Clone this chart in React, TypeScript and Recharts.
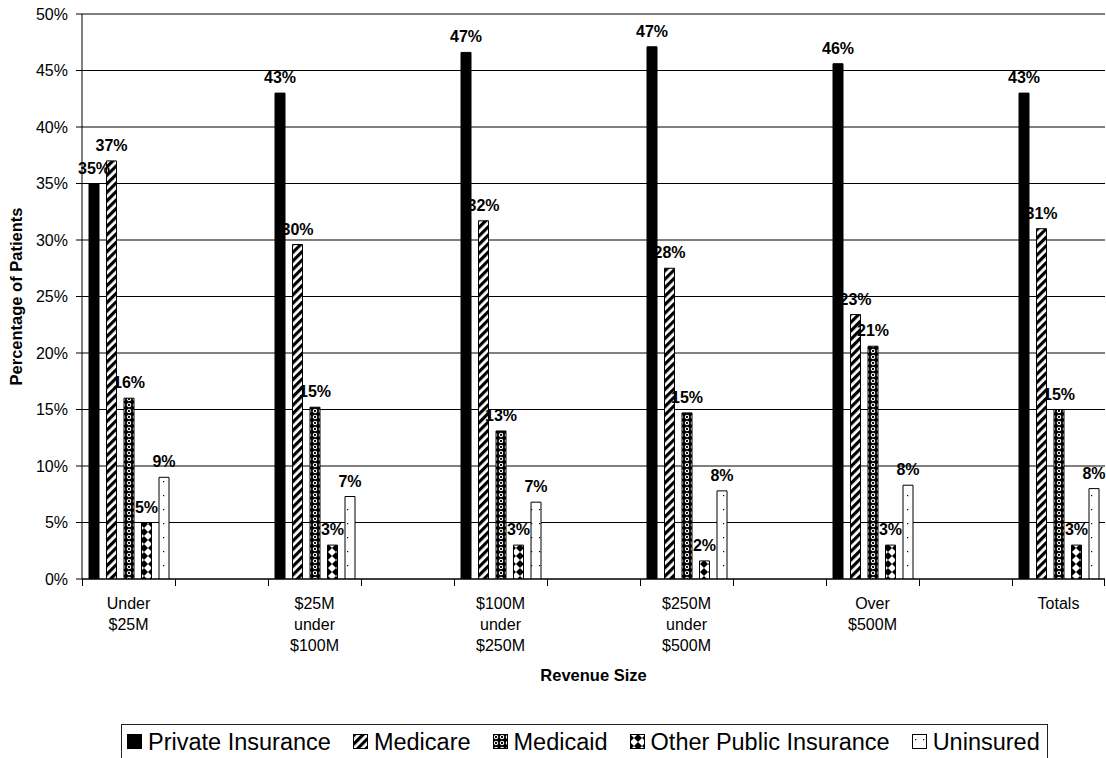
import React from 'react';
import { BarChart, Bar, XAxis, YAxis, CartesianGrid, LabelList, Label } from 'recharts';

// ── data ──────────────────────────────────────────────────────────────────────

const categories = [
  'Under\n$25M',
  '$25M\nunder\n$100M',
  '$100M\nunder\n$250M',
  '$250M\nunder\n$500M',
  'Over\n$500M',
  'Totals',
];

const privateInsurance = [35, 43, 46.6, 47.1, 45.6, 43];
const medicare         = [37, 29.6, 31.7, 27.5, 23.4, 31];
const medicaid         = [16, 15.2, 13.1, 14.7, 20.6, 15];
const otherPublic      = [5, 3, 3, 1.6, 3, 3];
const uninsured        = [9, 7.3, 6.8, 7.8, 8.3, 8];

const yTicks = [0, 5, 10, 15, 20, 25, 30, 35, 40, 45, 50];

const FONT = '"Liberation Sans", Arial, Helvetica, sans-serif';

const CHART_W = 1106;
const CHART_H = 758;
const MARGIN = { top: 14, right: 1, bottom: 178, left: 0 };
const Y_AXIS_W = 82;

const SERIES = [
  { key: 'private',  name: 'Private Insurance',      values: privateInsurance, fill: '#000' },
  { key: 'medicare', name: 'Medicare',               values: medicare,         fill: 'url(#patMedicare)' },
  { key: 'medicaid', name: 'Medicaid',               values: medicaid,         fill: 'url(#patMedicaid)' },
  { key: 'other',    name: 'Other Public Insurance', values: otherPublic,      fill: 'url(#patOther)' },
  { key: 'unins',    name: 'Uninsured',              values: uninsured,        fill: 'url(#patUnins)' },
];

// the original sheet has an empty column between every group
type Row = { id: string; label: string; [k: string]: string | number | null };
const data: Row[] = [];
categories.forEach((c, i) => {
  const row: Row = { id: `c${i}`, label: c };
  SERIES.forEach((s) => { row[s.key] = s.values[i]; });
  data.push(row);
  if (i < categories.length - 1) {
    const gap: Row = { id: `g${i}`, label: '' };
    SERIES.forEach((s) => { gap[s.key] = null; });
    data.push(gap);
  }
});

// width of one category band, used for the Excel-style ticks between categories
const BAND = (CHART_W - MARGIN.left - MARGIN.right - Y_AXIS_W) / data.length;

const fmtPct = (v: unknown) => (v == null ? '' : `${Math.round(Number(v))}%`);

// ── patterns ──────────────────────────────────────────────────────────────────

function Patterns() {
  return (
    <defs>
      <pattern id="patMedicare" width="6" height="6" patternUnits="userSpaceOnUse" patternTransform="rotate(45)">
        <rect width="6" height="6" fill="#fff" />
        <rect width="3.2" height="6" fill="#000" />
      </pattern>
      <pattern id="patMedicaid" width="6" height="6" patternUnits="userSpaceOnUse">
        <rect width="6" height="6" fill="#000" />
        <circle cx="3" cy="3" r="1.7" fill="none" stroke="#fff" strokeWidth="1.1" />
      </pattern>
      <pattern id="patOther" width="8" height="8" patternUnits="userSpaceOnUse">
        <rect width="8" height="8" fill="#fff" />
        <polygon points="0,0 4,4 0,8" fill="#000" />
        <polygon points="8,0 4,4 8,8" fill="#000" />
      </pattern>
      <pattern id="patUnins" width="8" height="14" patternUnits="userSpaceOnUse">
        <rect width="8" height="14" fill="#fff" />
        <rect x="3" y="5" width="1.2" height="1.2" fill="#000" />
      </pattern>
    </defs>
  );
}

// ── ticks ─────────────────────────────────────────────────────────────────────

function CategoryTick(props: any) {
  const { payload } = props;
  const x = Number(props.x);
  const y = Number(props.y);
  const idx = payload.index;
  const row = data[idx];
  const left = Math.round(x - BAND / 2) + 0.5;
  const right = Math.round(x + BAND / 2) - 0.5;
  const lines = row && row.label ? String(row.label).split('\n') : [];
  return (
    <g>
      <path d={`M${left} ${y} L${left} ${y + 7}`} stroke="#000" strokeWidth={1.2} shapeRendering="crispEdges" />
      {idx === data.length - 1 && (
        <path d={`M${right} ${y} L${right} ${y + 7}`} stroke="#000" strokeWidth={1.2} shapeRendering="crispEdges" />
      )}
      {lines.length > 0 && (
        <text x={x} y={y + 30} textAnchor="middle" fill="#000" fontSize={16} fontFamily={FONT}>
          {lines.map((l, i) => (
            <tspan key={i} x={x} dy={i === 0 ? 0 : 21}>{l}</tspan>
          ))}
        </text>
      )}
    </g>
  );
}

// ── legend ────────────────────────────────────────────────────────────────────

function LegendBox() {
  return (
    <div
      style={{
        position: 'absolute', left: 121, top: 724, height: 40,
        border: '1px solid #222', boxSizing: 'border-box',
        padding: '3px 7px 0 5px', display: 'flex', alignItems: 'flex-start',
        fontFamily: FONT, fontSize: 23.5, lineHeight: '28px', color: '#000',
        background: '#fff',
      }}
    >
      {SERIES.map((s, i) => (
        <div key={s.key} style={{ display: 'flex', alignItems: 'center', marginLeft: i === 0 ? 0 : 22 }}>
          <svg width={16} height={16} style={{ marginRight: 5 }}>
            <rect x={0.5} y={0.5} width={14} height={14} fill={s.fill} stroke="#000" strokeWidth={1} />
          </svg>
          <span>{s.name}</span>
        </div>
      ))}
    </div>
  );
}

// ── main ──────────────────────────────────────────────────────────────────────

export default function App() {
  return (
    <div style={{ position: 'absolute', left: 0, top: 0, width: CHART_W, height: CHART_H, overflow: 'hidden', background: '#fff' }}>
      <BarChart
        width={CHART_W}
        height={CHART_H}
        data={data}
        margin={MARGIN}
        barSize={10}
        barGap={7.5}
      >
        <Patterns />
        <CartesianGrid horizontal vertical={false} stroke="#000" strokeWidth={1} />
        <XAxis
          dataKey="id"
          height={1}
          interval={0}
          tickLine={false}
          tickSize={0}
          tickMargin={0}
          axisLine={{ stroke: '#000' }}
          tick={(p: any) => <CategoryTick {...p} />}
        >
          <Label
            content={(p: any) => {
              const vb = p.viewBox || { x: 82, y: 579, width: 1023 };
              return (
                <text x={vb.x + vb.width / 2} y={vb.y + 96} textAnchor="middle" dominantBaseline="central"
                  fontSize={16.5} fontWeight="bold" fontFamily={FONT} fill="#000">
                  Revenue Size
                </text>
              );
            }}
          />
        </XAxis>
        <YAxis
          width={Y_AXIS_W}
          domain={[0, 50]}
          ticks={yTicks}
          interval={0}
          allowDataOverflow
          tickFormatter={(v: number) => `${v}%`}
          tickSize={6}
          tickMargin={8}
          axisLine={{ stroke: '#000' }}
          tickLine={{ stroke: '#000' }}
          tick={{ fill: '#000', fontSize: 16, fontFamily: FONT }}
        >
          <Label
            content={(p: any) => {
              const vb = p.viewBox || { x: 0, y: 14, height: 565 };
              const cx = vb.x + 16;
              const cy = vb.y + vb.height / 2;
              return (
                <text x={cx} y={cy} transform={`rotate(-90 ${cx} ${cy})`} textAnchor="middle"
                  dominantBaseline="central" fontSize={16.5} fontWeight="bold" fontFamily={FONT} fill="#000">
                  Percentage of Patients
                </text>
              );
            }}
          />
        </YAxis>
        {SERIES.map((s) => (
          <Bar
            key={s.key}
            dataKey={s.key}
            name={s.name}
            fill={s.fill}
            stroke="#000"
            strokeWidth={1}
            isAnimationActive={false}
          >
            <LabelList
              dataKey={s.key}
              position="top"
              offset={10}
              formatter={fmtPct}
              fill="#000"
              fontSize={16}
              fontWeight="bold"
              fontFamily={FONT}
            />
          </Bar>
        ))}
      </BarChart>
      <LegendBox />
    </div>
  );
}
